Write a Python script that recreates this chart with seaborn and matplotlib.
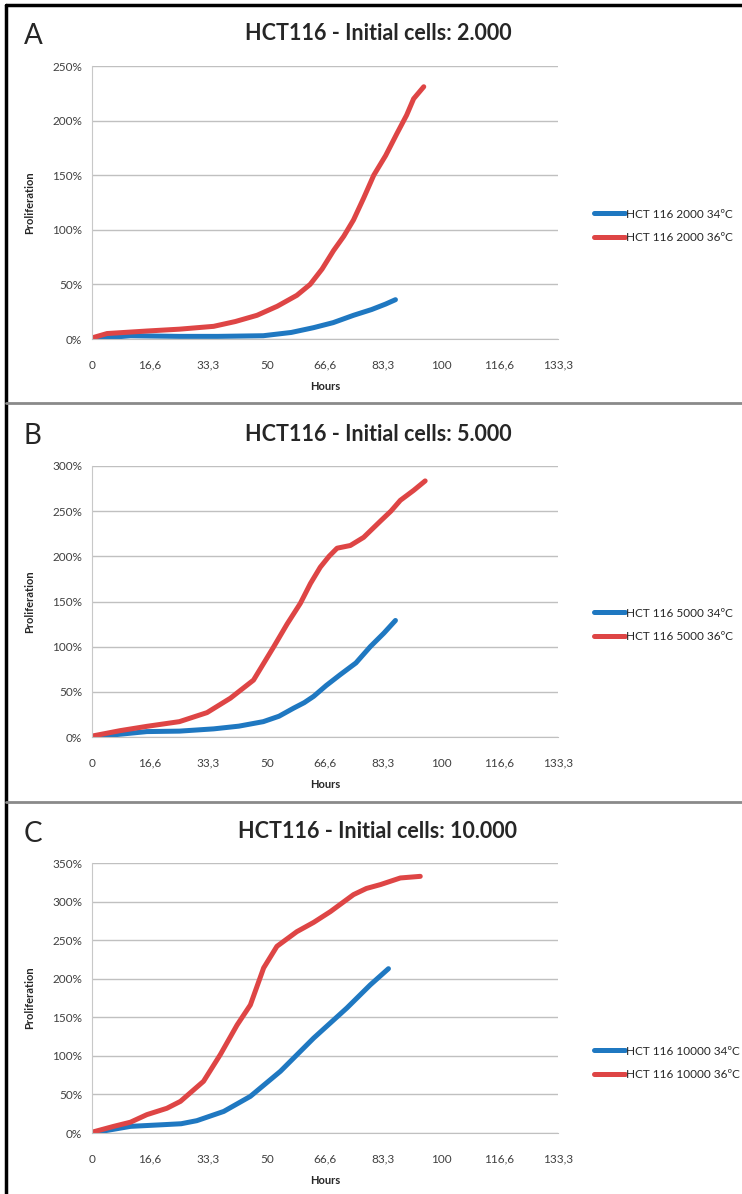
import pandas as pd
import seaborn as sns
import matplotlib.pyplot as plt
from matplotlib.lines import Line2D

# hours / proliferation (%)
a34_h = [0, 11, 25, 36, 49, 57, 63.4, 69, 74.8, 80, 84, 86.8]
a34_v = [0, 3, 2.4, 2.4, 3, 6, 10.4, 15, 21.7, 27, 32, 36]
a36_h = [0, 4.3, 15.7, 25, 34.8, 41, 47.2, 53, 58.6, 62.4, 65.8, 69.1, 72, 74.8, 77.7, 80.6, 84, 87.2, 90, 92, 94.9]
a36_v = [1, 5, 7.3, 9, 11.6, 16, 21.7, 30, 40, 50, 64, 81, 94, 109, 129, 150, 168, 188, 205, 220, 231]

b34_h = [0, 15.7, 25, 34.8, 42, 49, 53.5, 57.7, 60.7, 63.4, 67, 71, 75.5, 79.6, 83.5, 86.8]
b34_v = [0, 6, 6.5, 9, 12, 17, 23, 32, 38, 45, 57, 69, 82, 100, 115, 129]
b36_h = [0, 8, 15.7, 25, 32.9, 39.6, 46.2, 52, 55.8, 59.6, 62.5, 65.3, 67.8, 70.1, 73.9, 77.7, 82.5, 85.5, 88.2, 92, 95.3]
b36_v = [1, 7, 11.8, 17, 27, 43, 63, 100, 125, 148, 170, 188, 200, 209, 212, 221, 239, 250, 262, 273, 283.5]

c34_h = [0, 11, 20.5, 25.5, 30, 37.7, 45.3, 53.9, 63.4, 72.9, 79.6, 84.8]
c34_v = [0, 8.6, 10.8, 12, 16, 28, 47.5, 80, 123, 162, 192, 213]
c36_h = [0, 6.2, 11, 15.7, 21.4, 25.3, 31.9, 36.7, 41.5, 45.3, 49.1, 52.9, 58.6, 63.4, 68.2, 74.8, 78.5, 82.5, 88.2, 93.9]
c36_v = [1, 8.6, 14, 23.8, 32, 41, 67, 101.6, 140, 166, 214, 242, 261, 273, 287, 309, 317, 322, 330.6, 332.7]

x_ticks = [0, 16.6, 33.3, 50, 66.6, 83.3, 100, 116.6, 133.3]
x_labels = ['0', '16,6', '33,3', '50', '66,6', '83,3', '100', '116,6', '133,3']

panels = [
    ('A', '2.000', 250, (a34_h, a34_v), (a36_h, a36_v)),
    ('B', '5.000', 300, (b34_h, b34_v), (b36_h, b36_v)),
    ('C', '10.000', 350, (c34_h, c34_v), (c36_h, c36_v)),
]

sns.set_style('white')
plt.rcParams['font.family'] = ['Lato', 'DejaVu Sans']

blue = '#1f78c1'
red = '#de4545'
W, H = 742, 1194
fig = plt.figure(figsize=(7.42, 11.94), dpi=100)

# axes top/bottom in pixels
boxes = [(66, 339), (466, 737), (863, 1133)]
title_y = [34, 434, 832]
legend_y = [226, 625, 1063]

for i, (letter, cells, ymax, s34, s36) in enumerate(panels):
    top, bot = boxes[i]
    ax = fig.add_axes([92 / W, 1 - bot / H, 466 / W, (bot - top) / H])
    name = 'HCT 116 ' + cells.replace('.', '')
    df = pd.concat([
        pd.DataFrame({'Hours': s34[0], 'Proliferation': s34[1], 'serie': name + ' 34ºC'}),
        pd.DataFrame({'Hours': s36[0], 'Proliferation': s36[1], 'serie': name + ' 36ºC'}),
    ])
    sns.lineplot(data=df, x='Hours', y='Proliferation', hue='serie',
                 palette=[blue, red], estimator=None, sort=False,
                 linewidth=3.6, ax=ax, legend=False,
                 solid_joinstyle='round', solid_capstyle='round')
    ax.set_xlim(0, 133.3)
    ax.set_ylim(0, ymax)
    ax.set_yticks(range(0, ymax + 1, 50))
    ax.set_yticklabels([f'{v}%' for v in range(0, ymax + 1, 50)])
    ax.set_xticks(x_ticks)
    ax.set_xticklabels(x_labels)
    ax.yaxis.grid(True, color='#c0c0c0', lw=1)
    ax.xaxis.grid(False)
    for s in ['top', 'right']:
        ax.spines[s].set_visible(False)
    ax.spines['left'].set_color('#c8c8c8')
    ax.spines['bottom'].set_color('#c0c0c0')
    ax.tick_params(axis='y', length=4, color='#c0c0c0', labelsize=8.5, labelcolor='#404040', pad=3)
    ax.tick_params(axis='x', length=0, labelsize=8.5, labelcolor='#404040', pad=15)
    ax.set_xlabel('Hours', fontsize=8, fontweight='bold')
    ax.set_ylabel('Proliferation', fontsize=8, fontweight='bold')
    ax.xaxis.set_label_coords(0.5, -42 / (bot - top))
    ax.yaxis.set_label_coords(-57 / 466, 0.5)

    fig.text(378 / W, 1 - title_y[i] / H, f'HCT116 - Initial cells: {cells}',
             ha='center', va='center', fontsize=15.5, fontweight='bold')
    fig.text(24 / W, 1 - (title_y[i] + 2) / H, letter, ha='left', va='center', fontsize=20)

    handles = [Line2D([], [], color=blue, lw=3.6), Line2D([], [], color=red, lw=3.6)]
    ax.legend(handles, [name + ' 34ºC', name + ' 36ºC'], loc='center left',
              bbox_to_anchor=(594 / W, 1 - legend_y[i] / H), bbox_transform=fig.transFigure,
              frameon=False, fontsize=8.5, handlelength=2.6, handletextpad=0.15,
              labelspacing=1.1, borderpad=0, borderaxespad=0)

# panel frames
fig.add_artist(Line2D([6 / W, 1], [1 - 5 / H, 1 - 5 / H], color='black', lw=2.5))
fig.add_artist(Line2D([6 / W, 6 / W], [0, 1 - 5 / H], color='black', lw=2.5))
for y in [403, 802]:
    fig.add_artist(Line2D([6 / W, 1], [1 - y / H, 1 - y / H], color='#8a8a8a', lw=2))

fig.savefig('out.png', dpi=100)
